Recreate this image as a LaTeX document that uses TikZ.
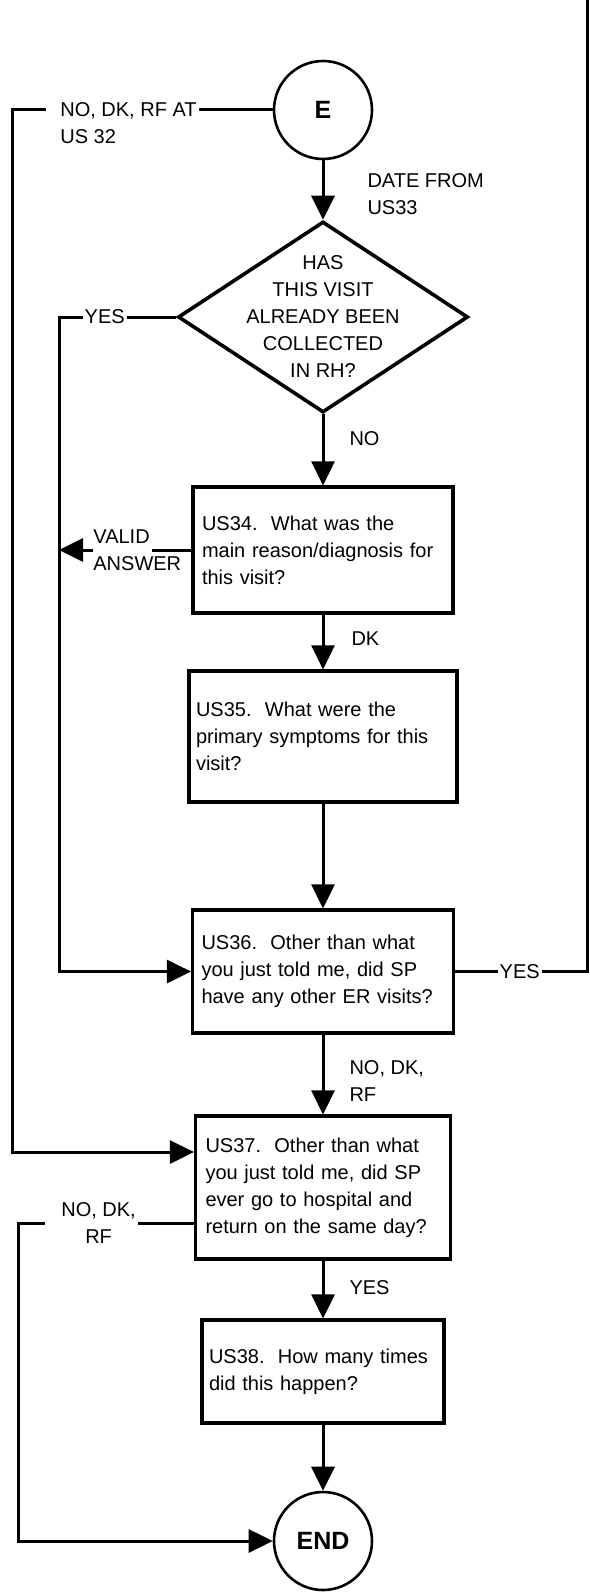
\documentclass[tikz,border=0pt]{standalone}
\usepackage{fontspec}
\setmainfont{Liberation Sans}
\usetikzlibrary{arrows.meta}
\usetikzlibrary{shapes.geometric}

\tikzset{
  lbl/.style={font=\fontsize{10}{13.5}\selectfont, inner sep=0pt, align=left},
  qbox/.style={draw, line width=1.6pt, font=\fontsize{10}{13.5}\selectfont, align=left},
  term/.style={draw, circle, line width=1.3pt, minimum size=49pt, inner sep=0pt, font=\fontsize{12.5}{15}\selectfont\bfseries},
  decide/.style={draw, diamond, line width=1.8pt, minimum width=145pt, minimum height=95.5pt, inner sep=0pt},
  wire/.style={line width=1.5pt},
  flow/.style={wire, -{Triangle[width=11.5pt,length=12pt]}},
}

\begin{document}
\begin{tikzpicture} [x=0.5pt,y=-0.5pt]

\useasboundingbox (0,0) rectangle (589,1595);

\coordinate (ltop) at (12,110);
\coordinate (yesturn) at (59,317);
\coordinate (validcut) at (152,550);
\coordinate (rtop) at (587,0);
\coordinate (lend) at (18,1223);

\node (E) [term] at (323,110) {E};
\node (dec) [decide, label={[lbl, align=center]center:HAS\\THIS VISIT\\ALREADY BEEN\\COLLECTED\\IN RH?}] at (323,317) {};
\node (us34) [qbox, text width=121pt, inner xsep=4.5pt, minimum height=63pt] at (323,550) {US34.\ \ What was the\\main reason/diagnosis for\\this visit?};
\node (us35) [qbox, text width=127pt, inner xsep=3.5pt, minimum height=65.5pt] at (323,736.5) {US35.\ \ What were the\\primary symptoms for this\\visit?};
\node (us36) [qbox, text width=121.5pt, inner xsep=4.5pt, minimum height=61.5pt] at (323,971.5) {US36.\ \ Other than what\\you just told me, did SP\\have any other ER visits?};
\node (us37) [qbox, text width=117.5pt, inner xsep=5pt, minimum height=71.5pt] at (323,1187.5) {US37.\ \ Other than what\\you just told me, did SP\\ever go to hospital and\\return on the same day?};
\node (us38) [qbox, text width=114pt, inner xsep=3.5pt, minimum height=51.5pt] at (323,1371.5) {US38.\ \ How many times\\did this happen?};
\node (end) [term] at (323,1541) {END};
\node (valid) [lbl, anchor=west] at (93,550) {VALID\\ANSWER};

\draw[flow] (E) -- (dec) node[lbl, right, pos=0.57, xshift=21.5pt] {DATE FROM\\US33};
\draw[flow] (dec) -- (us34) node[lbl, right, pos=0.34, xshift=12.5pt] {NO};
\draw[flow] (us34) -- (us35) node[lbl, right, pos=0.43, xshift=13.5pt] {DK};
\draw[flow] (us35) -- (us36);
\draw[flow] (us36) -- (us37) node[lbl, right, pos=0.58, xshift=12.5pt] {NO, DK,\\RF};
\draw[flow] (us37) -- (us38) node[lbl, right, pos=0.46, xshift=12.5pt] {YES};
\draw[flow] (us38) -- (end);

\draw[flow] (E.west) -- (ltop) node[lbl, fill=white, inner sep=1pt, anchor=west, pos=0.874, yshift=-6.75pt] {\hspace*{6pt}NO, DK, RF AT\\\hspace*{6pt}US 32} |- ([yshift=17.75pt]us37.west);
\draw[flow] (dec.west) -- (yesturn) node[lbl, fill=white, inner sep=1pt, pos=0.61] {YES} |- (us36.west);
\draw[wire] (us34.west) -- (validcut);
\draw[flow] (valid.west) -- (valid.west -| yesturn);
\draw[wire] (us36.east) -| node[lbl, fill=white, inner sep=1pt, pos=0.245] {YES} (rtop);
\draw[flow] ([yshift=-17.75pt]us37.west) -- (lend) node[lbl, fill=white, inner sep=1pt, align=center, anchor=west, pos=0.853] {\hspace*{7pt}NO, DK,\\\hspace*{7pt}RF} |- (end.west);

\end{tikzpicture}
\end{document}
